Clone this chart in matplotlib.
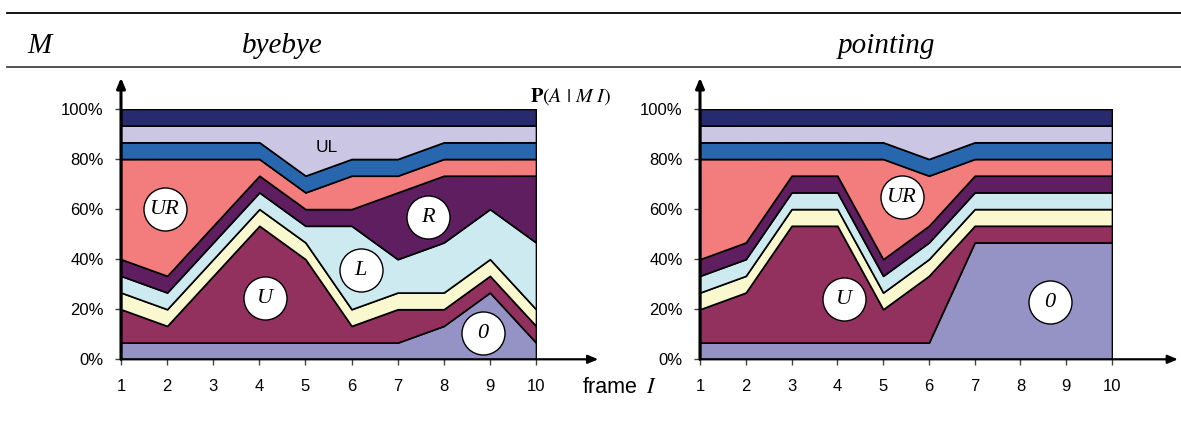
import matplotlib
matplotlib.use("Agg")
import matplotlib.pyplot as plt
from matplotlib.lines import Line2D
import numpy as np

plt.rcParams["mathtext.fontset"] = "stix"

frames = np.arange(1, 11)
x_labels = [str(f) for f in frames]
y_ticks = [0, 20, 40, 60, 80, 100]
y_labels = ["0%", "20%", "40%", "60%", "80%", "100%"]

# layer order from bottom to top
layers = ["0", "U", "D", "L", "R", "UR", "B", "UL", "T"]
colors = ["#9592c6", "#92305e", "#faf8cf", "#cdeaf0", "#5e1e60",
          "#f37d7d", "#2866ae", "#cac6e3", "#262a6e"]

# share of each layer (percent) for frames 1..10
byebye = {
    "0":  [6.67, 6.67, 6.67, 6.67, 6.67, 6.67, 6.67, 13.33, 26.67, 6.67],
    "U":  [13.33, 6.67, 26.67, 46.67, 33.33, 6.67, 13.33, 6.67, 6.67, 6.67],
    "D":  [6.67, 6.67, 6.67, 6.67, 6.67, 6.67, 6.67, 6.67, 6.67, 6.67],
    "L":  [6.67, 6.67, 6.67, 6.67, 6.67, 33.33, 13.33, 20.0, 20.0, 26.67],
    "R":  [6.67, 6.67, 6.67, 6.67, 6.67, 6.67, 26.67, 26.67, 13.33, 26.67],
    "UR": [40.0, 46.67, 26.67, 6.67, 6.67, 13.33, 6.67, 6.67, 6.67, 6.67],
    "B":  [6.67, 6.67, 6.67, 6.67, 6.67, 6.67, 6.67, 6.67, 6.67, 6.67],
    "UL": [6.67, 6.67, 6.67, 6.67, 20.0, 13.33, 13.33, 6.67, 6.67, 6.67],
    "T":  [6.66, 6.66, 6.66, 6.66, 6.66, 6.66, 6.66, 6.66, 6.66, 6.66],
}

pointing = {
    "0":  [6.67, 6.67, 6.67, 6.67, 6.67, 6.67, 46.67, 46.67, 46.67, 46.67],
    "U":  [13.33, 20.0, 46.67, 46.67, 13.33, 26.67, 6.67, 6.67, 6.67, 6.67],
    "D":  [6.67, 6.67, 6.67, 6.67, 6.67, 6.67, 6.67, 6.67, 6.67, 6.67],
    "L":  [6.67, 6.67, 6.67, 6.67, 6.67, 6.67, 6.67, 6.67, 6.67, 6.67],
    "R":  [6.67, 6.67, 6.67, 6.67, 6.67, 6.67, 6.67, 6.67, 6.67, 6.67],
    "UR": [40.0, 33.33, 6.67, 6.67, 40.0, 20.0, 6.67, 6.67, 6.67, 6.67],
    "B":  [6.67, 6.67, 6.67, 6.67, 6.67, 6.67, 6.67, 6.67, 6.67, 6.67],
    "UL": [6.67, 6.67, 6.67, 6.67, 6.67, 13.33, 6.67, 6.67, 6.67, 6.67],
    "T":  [6.66, 6.66, 6.66, 6.66, 6.66, 6.66, 6.66, 6.66, 6.66, 6.66],
}

# circled labels: (text, x, y)
byebye_marks = [("UR", 1.95, 60), ("R", 7.66, 56.7), ("L", 6.2, 35.6),
                ("U", 4.12, 24.4), ("0", 8.85, 10.5)]
pointing_marks = [("UR", 5.41, 64.7), ("U", 4.14, 24), ("0", 8.64, 22.8)]

SANS = "Liberation Sans"
SERIF = "Liberation Serif"

fig = plt.figure(figsize=(11.81, 4.22), dpi=100)
W, H = 1181, 422


def draw_panel(rect, data, marks, arrow_x):
    ax = fig.add_axes(rect)
    vals = [data[k] for k in layers]
    ax.stackplot(frames, vals, colors=colors, edgecolor="black",
                 linewidth=1.2, zorder=2)
    ax.set_xlim(1, 10)
    ax.set_ylim(0, 100)
    for s in ax.spines.values():
        s.set_visible(False)
    ax.set_xticks(frames)
    ax.set_xticklabels(x_labels, fontsize=12, family=SANS)
    ax.set_yticks(y_ticks)
    ax.set_yticklabels(y_labels, fontsize=12, family=SANS)
    ax.tick_params(axis="x", length=4.5, width=1, color="#444", pad=9.5)
    ax.tick_params(axis="y", length=4.5, width=1, color="#444", pad=8)
    # axis arrows
    ax.annotate("", xy=(1, 112.5), xytext=(1, 0), annotation_clip=False,
                arrowprops=dict(arrowstyle="-|>,head_length=0.6,head_width=0.25",
                                color="black", lw=2.2, shrinkA=0, shrinkB=0,
                                mutation_scale=10), zorder=5)
    ax.annotate("", xy=(arrow_x, 0), xytext=(1, 0), annotation_clip=False,
                arrowprops=dict(arrowstyle="-|>,head_length=0.6,head_width=0.25",
                                color="black", lw=1.6, shrinkA=0, shrinkB=0,
                                mutation_scale=10), zorder=5)
    for txt, x, y in marks:
        ax.scatter([x], [y], s=960, facecolor="white", edgecolor="black",
                   linewidth=1, zorder=6, clip_on=False)
        ax.text(x, y, txt, ha="center", va="center", fontsize=16,
                family=SERIF, style="italic", zorder=7)
    return ax


ax1 = draw_panel([121 / W, (H - 359.3) / H, 415 / W, 250.3 / H],
                 byebye, byebye_marks, 11.35)
ax1.text(5.47, 84.6, "UL", ha="center", va="center", fontsize=12.5,
         family=SANS, zorder=7)

ax2 = draw_panel([700 / W, (H - 359.3) / H, 412 / W, 250.3 / H],
                 pointing, pointing_marks, 11.44)

# header rules and titles
fig.add_artist(Line2D([7 / W, 1.0], [(H - 13) / H] * 2, color="black", lw=1.3))
fig.add_artist(Line2D([7 / W, 1.0], [(H - 67) / H] * 2, color="#444", lw=1.3))
fig.text(27 / W, (H - 53) / H, "M", fontsize=21, family=SERIF, style="italic",
         va="baseline", ha="left")
fig.text(282 / W, (H - 53) / H, "byebye", fontsize=21, family=SERIF,
         style="italic", va="baseline", ha="center")
fig.text(886 / W, (H - 53) / H, "pointing", fontsize=21, family=SERIF,
         style="italic", va="baseline", ha="center")

fig.text(530 / W, (H - 101.5) / H, r"$\mathbf{P}(A\ |\ M\ I)$", fontsize=14.5,
         va="baseline", ha="left")
fig.text(583 / W, (H - 393) / H, "frame", fontsize=15.5, family=SANS,
         va="baseline", ha="left")
fig.text(646 / W, (H - 393) / H, r"$I$", fontsize=16, va="baseline", ha="left")

fig.savefig("out.png", dpi=100)
